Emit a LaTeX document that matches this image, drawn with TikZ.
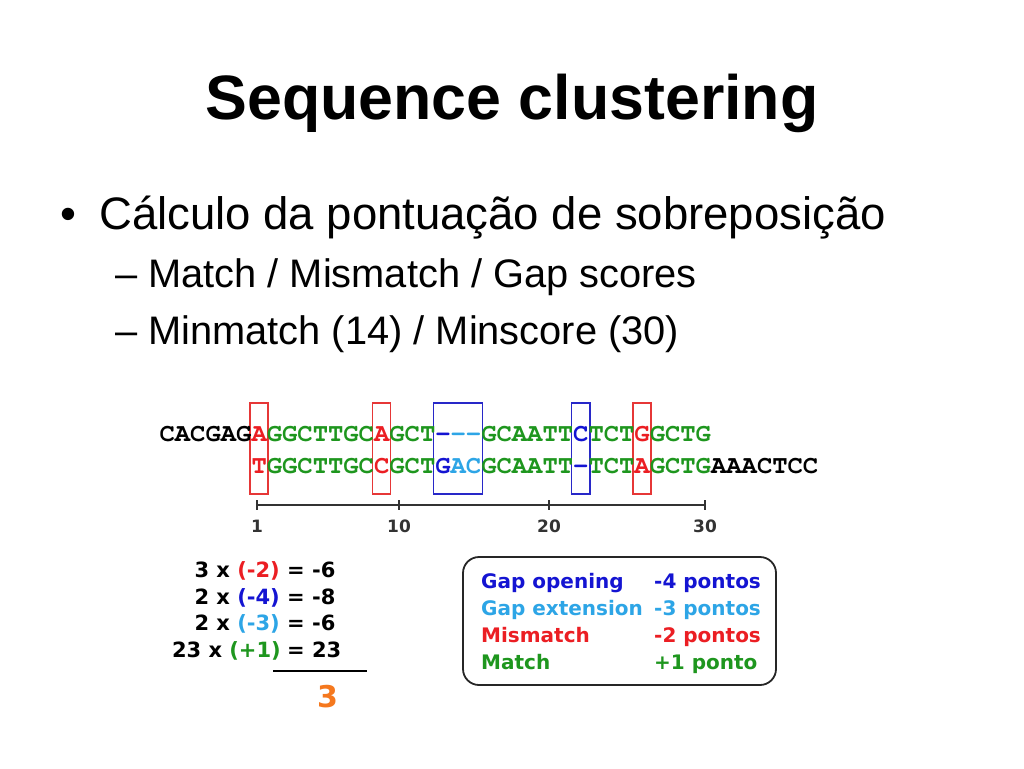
\documentclass[tikz,border=0pt]{standalone}
\usepackage[T1]{fontenc}
\usepackage{fontspec}
\setmainfont{Liberation Sans}
\newfontfamily\verdfont{DejaVu Sans}
\newcommand\seqfont{\fontencoding{T1}\fontfamily{pcr}\fontseries{b}\selectfont}
\definecolor{seqgreen}{RGB}{30,150,30}
\definecolor{seqred}{RGB}{235,30,35}
\definecolor{seqblue}{RGB}{20,20,210}
\definecolor{seqcyan}{RGB}{45,165,230}
\definecolor{boxred}{RGB}{230,55,55}
\definecolor{boxblue}{RGB}{40,40,200}
\definecolor{scoreorange}{RGB}{245,120,30}
\def\colM#1{\textcolor{seqgreen}{#1}}
\def\colX#1{\textcolor{seqred}{#1}}
\def\colO#1{\textcolor{seqblue}{#1}}
\def\colE#1{\textcolor{seqcyan}{#1}}
\tikzset{
	seq/.style={font=\seqfont\fontsize{25.53}{30}\selectfont, inner sep=0pt, anchor=base west},
	mmbox/.style={draw=boxred, line width=1.5pt},
	gapbox/.style={draw=boxblue, line width=1.5pt},
	sumtext/.style={font=\verdfont\bfseries\fontsize{21}{25}\selectfont, inner sep=0pt},
	legtext/.style={font=\verdfont\bfseries\fontsize{20}{24}\selectfont, inner sep=0pt, anchor=base west},
	ticklabel/.style={font=\verdfont\bfseries\fontsize{17}{20}\selectfont, text=black!80, inner sep=0pt, anchor=base},
}

\begin{document}
\begin{tikzpicture}[x=1pt, y=-1pt]
			%%%%% START %%%%%
			
			\fill[white] (0, 0) rectangle (1024, 768);
			\useasboundingbox (0, 0) rectangle (1024, 768);
			
			\node[anchor=base, inner sep=0pt, font=\bfseries\fontsize{62.7}{76}\selectfont] (title) at (512, 119) {Sequence clustering};
			
			\node[anchor=base, inner sep=0pt, font=\fontsize{45.5}{54}\selectfont] (bullet) at (68, 229) {•};
			\node[anchor=base west, inner sep=0pt, font=\fontsize{45.5}{54}\selectfont] (item) at (99, 229) {Cálculo da pontuação de sobreposição};
			\node[anchor=base west, inner sep=0pt, font=\fontsize{39.8}{48}\selectfont] (subone) at (115, 287) {– Match / Mismatch / Gap scores};
			\node[anchor=base west, inner sep=0pt, font=\fontsize{39.8}{48}\selectfont] (subtwo) at (115, 344) {– Minmatch (14) / Minscore (30)};
			
			% alignment
			\draw[mmbox] (249.8, 403) rectangle (268.1, 494);
			\draw[mmbox] (372.4, 403) rectangle (390.7, 494);
			\draw[gapbox] (433.7, 403) rectangle (482.7, 494);
			\draw[gapbox] (571.5, 403) rectangle (589.8, 494);
			\draw[mmbox] (632.8, 403) rectangle (651.1, 494);
			
			\node[seq] (seqtop) at (159.4, 441) {CACGAG\colX{A}\colM{GGCTTGC}\colX{A}\colM{GCT}\colO{-}\colE{-{}-}\colM{GCAATT}\colO{C}\colM{TCT}\colX{G}\colM{GCTG}};
			\node[seq] (seqbottom) at (251.3, 473) {\colX{T}\colM{GGCTTGC}\colX{C}\colM{GCT}\colO{G}\colE{AC}\colM{GCAATT}\colO{-}\colM{TCT}\colX{A}\colM{GCTG}AAACTCC};
			
			% ruler
			\draw[line width=1.6pt, black!80] (257, 505) -- (705, 505);
			\draw[line width=1.6pt, black!80] (257, 500) -- (257, 510);
			\draw[line width=1.6pt, black!80] (399, 500) -- (399, 510);
			\draw[line width=1.6pt, black!80] (549, 500) -- (549, 510);
			\draw[line width=1.6pt, black!80] (705, 500) -- (705, 510);
			\node[ticklabel] (pos1) at (257, 532) {1};
			\node[ticklabel] (pos10) at (399, 532) {10};
			\node[ticklabel] (pos20) at (549, 532) {20};
			\node[ticklabel] (pos30) at (705, 532) {30};
			
			% score sum
			\node[sumtext, anchor=base east] (mmcount) at (280, 577) {3 x \textcolor{seqred}{(-2)}};
			\node[sumtext, anchor=base west] (mmtotal) at (287, 577) {= -6};
			\node[sumtext, anchor=base east] (gocount) at (280, 604) {2 x \textcolor{seqblue}{(-4)}};
			\node[sumtext, anchor=base west] (gototal) at (287, 604) {= -8};
			\node[sumtext, anchor=base east] (gecount) at (280, 630) {2 x \textcolor{seqcyan}{(-3)}};
			\node[sumtext, anchor=base west] (getotal) at (287, 630) {= -6};
			\node[sumtext, anchor=base east] (mtcount) at (281, 657) {23 x \textcolor{seqgreen}{(+1)}};
			\node[sumtext, anchor=base west] (mttotal) at (287, 657) {= 23};
			\draw[line width=1.6pt] (273, 671) -- (367, 671);
			\node[sumtext, anchor=base, text=scoreorange, font=\verdfont\bfseries\fontsize{30}{36}\selectfont] (result) at (327.5, 707) {3};
			
			% legend
			\draw[line width=1.8pt, black!85, rounded corners=16pt] (463, 557) rectangle (776, 685);
			\node[legtext, text=seqblue] (goname) at (481, 588) {Gap opening};
			\node[legtext, text=seqblue] (govalue) at (654, 588) {-4 pontos};
			\node[legtext, text=seqcyan] (gename) at (481, 615) {Gap extension};
			\node[legtext, text=seqcyan] (gevalue) at (654, 615) {-3 pontos};
			\node[legtext, text=seqred] (mmname) at (481, 642) {Mismatch};
			\node[legtext, text=seqred] (mmvalue) at (654, 642) {-2 pontos};
			\node[legtext, text=seqgreen] (mtname) at (481, 669) {Match};
			\node[legtext, text=seqgreen] (mtvalue) at (654, 669) {+1 ponto};
			
			%%%%% END %%%%%
\end{tikzpicture}
\end{document}
